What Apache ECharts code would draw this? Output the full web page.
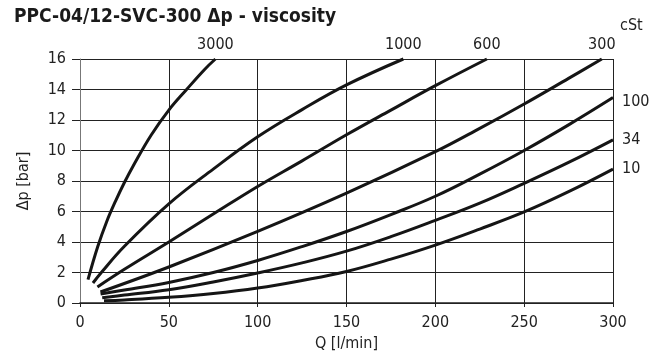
<!DOCTYPE html>
<html><head><meta charset="utf-8">
<script src="https://cdn.jsdelivr.net/npm/echarts@6/dist/echarts.min.js"></script>
<style>html,body{margin:0;padding:0;background:#fff}#c{width:657px;height:351px}</style>
</head><body><div id="c"></div>
<script>
var titleText = 'PPC-04/12-SVC-300 \u0394p - viscosity';
var unitText = 'cSt';
var xName = 'Q [l/min]';
var yName = '\u0394p [bar]';
var xTicks = [0, 50, 100, 150, 200, 250, 300];
var yTicks = [0, 2, 4, 6, 8, 10, 12, 14, 16];

var names = ['3000', '1000', '600', '300', '100', '34', '10'];
var q3000 = [4.5, 10, 15, 20, 25, 30, 40, 50, 60, 70, 76.2];
var p3000 = [1.53, 3.7, 5.33, 6.68, 7.9, 9.0, 11.0, 12.65, 14.0, 15.3, 16];
var q1000 = [7.3, 12, 25, 50, 75, 100, 125, 150, 182];
var p1000 = [1.31, 2, 3.72, 6.5, 8.78, 10.9, 12.68, 14.3, 16];
var q600 = [9.8, 25, 50, 75, 100, 125, 150, 175, 200, 229];
var p600 = [1.05, 2.21, 4, 5.83, 7.64, 9.32, 11.03, 12.65, 14.25, 16];
var q300 = [11.5, 50, 100, 150, 200, 225, 250, 275, 293.7];
var p300 = [0.72, 2.36, 4.69, 7.2, 9.92, 11.45, 13.05, 14.73, 16];
var q100 = [11.6, 25, 50, 75, 100, 125, 150, 175, 200, 225, 250, 275, 300];
var p100 = [0.59, 0.85, 1.35, 2.0, 2.79, 3.7, 4.69, 5.8, 7.0, 8.45, 10.0, 11.68, 13.47];
var q34 = [12.5, 25, 50, 75, 100, 125, 150, 175, 200, 225, 250, 275, 300];
var p34 = [0.35, 0.52, 0.87, 1.38, 1.97, 2.63, 3.4, 4.35, 5.42, 6.55, 7.85, 9.22, 10.7];
var q10 = [13.5, 25, 50, 75, 100, 125, 150, 175, 200, 225, 250, 275, 300];
var p10 = [0.15, 0.2, 0.37, 0.62, 0.98, 1.48, 2.07, 2.88, 3.8, 4.85, 5.97, 7.3, 8.78];

var qs = [q3000, q1000, q600, q300, q100, q34, q10];
var ps = [p3000, p1000, p600, p300, p100, p34, p10];
var labelTop = [true, true, true, true, false, false, false];

var FONT = '"Liberation Sans Narrow", "DejaVu Sans Condensed", "Roboto Condensed", sans-serif';

var series = names.map(function (n, i) {
  var data = qs[i].map(function (q, j) {
    var d = { value: [q, ps[i][j]] };
    if (j === qs[i].length - 1) {
      d.label = labelTop[i]
        ? { show: true, position: 'top', distance: 6, formatter: n, fontSize: 16, color: '#222', fontFamily: FONT }
        : { show: true, position: 'right', distance: 9, offset: [0, n === '100' ? 4 : 0], formatter: n, fontSize: 16, color: '#222', fontFamily: FONT };
    }
    return d;
  });
  return {
    type: 'line', name: n, data: data, smooth: 0.4,
    symbol: 'circle', symbolSize: 0, showSymbol: true,
    itemStyle: { color: 'rgba(0,0,0,0)' },
    lineStyle: { color: '#151515', width: 3 }, silent: true, clip: false
  };
});

var chart = echarts.init(document.getElementById('c'), null, { renderer: 'canvas' });
chart.setOption({
  animation: false,
  backgroundColor: '#fff',
  title: [
    { text: titleText, left: 9, top: 3, textStyle: { fontSize: 19, fontWeight: 'bold', color: '#1a1a1a', fontFamily: FONT } },
    { text: unitText, left: 615, top: 13, textStyle: { fontSize: 16, fontWeight: 'normal', color: '#222', fontFamily: FONT } }
  ],
  grid: { left: 80, right: 44, top: 59, bottom: 48, containLabel: false, outerBoundsMode: 'none' },
  xAxis: {
    type: 'value', min: xTicks[0], max: xTicks[xTicks.length - 1], interval: 50,
    name: xName, nameLocation: 'middle', nameGap: 32,
    nameTextStyle: { fontSize: 16, color: '#222', fontFamily: FONT },
    axisLine: { show: true, lineStyle: { color: '#222', width: 1.5 } },
    axisTick: { show: true, length: 4, lineStyle: { color: '#222' } },
    axisLabel: { fontSize: 16, color: '#222', margin: 12, fontFamily: FONT },
    splitLine: { show: true, lineStyle: { color: '#222', width: 1 } }
  },
  yAxis: {
    type: 'value', min: yTicks[0], max: yTicks[yTicks.length - 1], interval: 2,
    name: yName, nameLocation: 'middle', nameGap: 48,
    nameTextStyle: { fontSize: 16, color: '#222', fontFamily: FONT },
    axisLine: { show: true, lineStyle: { color: '#777', width: 1 } },
    axisTick: { show: true, length: 8, lineStyle: { color: '#222' } },
    axisLabel: { fontSize: 16, color: '#222', margin: 14, fontFamily: FONT },
    splitLine: { show: true, lineStyle: { color: '#222', width: 1 } }
  },
  series: series
});
</script></body></html>
